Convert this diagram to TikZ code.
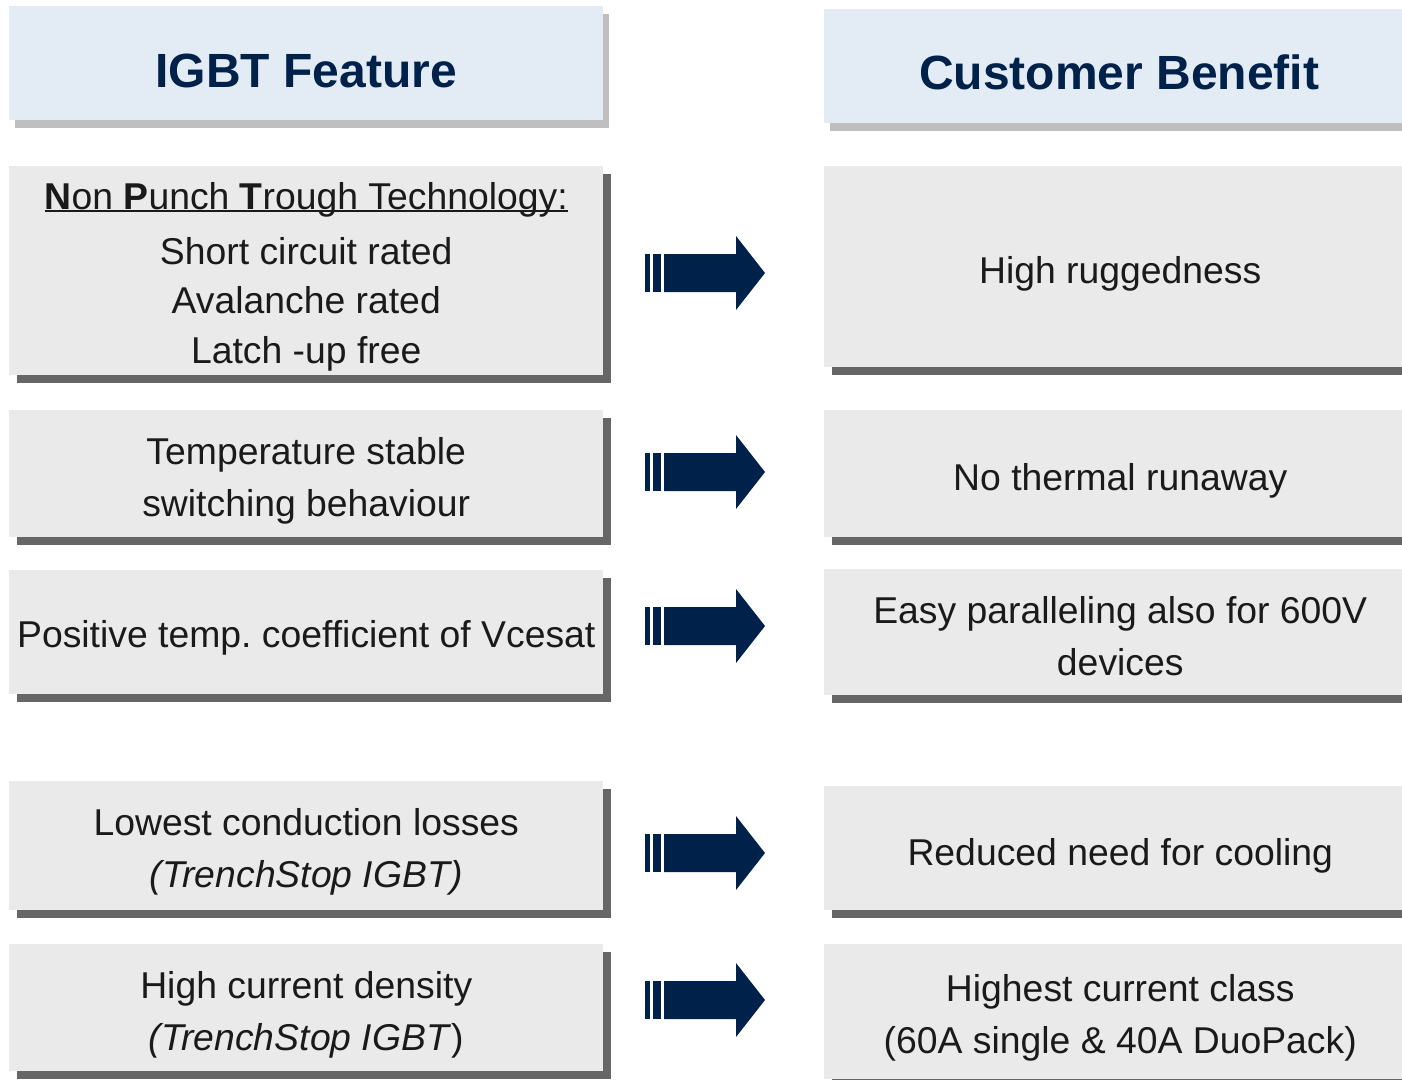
\documentclass[tikz,border=0pt]{standalone}
\usepackage{fontspec}
\setmainfont{Liberation Sans}
\usetikzlibrary{shadows}

\definecolor{headfill}{HTML}{E3ECF5}
\definecolor{headshade}{HTML}{BFBFBF}
\definecolor{boxfill}{HTML}{EAEAEA}
\definecolor{boxshade}{HTML}{666666}
\definecolor{navy}{HTML}{00214A}
\definecolor{ink}{HTML}{1A1A1A}

% one drawing unit
\newlength\unitpx
\setlength\unitpx{0.75pt}

% underline sitting close to the baseline
\newsavebox\ulinebox
\newcommand\lowline[1]{\sbox\ulinebox{#1}%
  \rlap{\rule[-1.4pt]{\wd\ulinebox}{1.1pt}}\usebox\ulinebox}

\tikzset{
  headbox/.style={fill=headfill, anchor=north west, inner sep=0pt,
    minimum height=114\unitpx, text height=36pt, text=navy,
    font=\fontsize{36}{40}\selectfont\bfseries,
    drop shadow={shadow xshift=6\unitpx, shadow yshift=-8\unitpx,
      fill=headshade, opacity=1}},
  featbox/.style={fill=boxfill, anchor=north west, inner sep=0pt,
    minimum width=594\unitpx,
    drop shadow={shadow xshift=8\unitpx, shadow yshift=-8\unitpx,
      fill=boxshade, opacity=1}},
  benbox/.style={featbox, minimum width=592\unitpx},
  boxtext/.style={inner sep=0pt, align=center, text=ink,
    font=\fontsize{28}{39}\selectfont},
}

\begin{document}
\begin{tikzpicture}[x=\unitpx, y=-\unitpx]
\useasboundingbox (0,0) rectangle (1402,1079);
\clip (0,0) rectangle (1402,1079);

% column heads
\node[headbox, minimum width=594\unitpx] (hfeat) at (9,6) {IGBT Feature};
\node[headbox, minimum width=590\unitpx, text height=34.5pt] (hben) at (824,9)
  {Customer Benefit};

% feature boxes
\node[featbox, minimum height=209\unitpx] (f1) at (9,166) {};
\node[featbox, minimum height=127\unitpx] (f2) at (9,410) {};
\node[featbox, minimum height=124\unitpx] (f3) at (9,570) {};
\node[featbox, minimum height=129\unitpx] (f4) at (9,781) {};
\node[featbox, minimum height=127\unitpx] (f5) at (9,944) {};

% benefit boxes
\node[benbox, minimum height=201\unitpx] (b1) at (824,166) {};
\node[benbox, minimum height=127\unitpx] (b2) at (824,410) {};
\node[benbox, minimum height=126\unitpx] (b3) at (824,569) {};
\node[benbox, minimum height=124\unitpx] (b4) at (824,786) {};
\node[benbox, minimum height=135\unitpx] (b5) at (824,944) {};

% feature texts
\node[boxtext, font=\fontsize{28}{37}\selectfont] (tf1)
  at ([yshift=-6\unitpx]f1.center)
  {\lowline{\textbf{N}on \textbf{P}unch \textbf{T}rough Technology:}\\[4pt]
   Short circuit rated\\ Avalanche rated\\ Latch -up free};
\node[boxtext] (tf2) at ([yshift=-7\unitpx]f2.center)
  {Temperature stable\\ switching behaviour};
\node[boxtext] (tf3) at ([yshift=-6\unitpx]f3.center)
  {Positive temp.\ coefficient of Vcesat};
\node[boxtext] (tf4) at ([yshift=-6\unitpx]f4.center)
  {Lowest conduction losses\\ \textit{(TrenchStop IGBT)}};
\node[boxtext] (tf5) at ([yshift=-7\unitpx]f5.center)
  {High current density\\ \textit{(TrenchStop IGBT})};

% benefit texts
\node[boxtext] (tb1) at ([yshift=-7\unitpx]b1.center) {High ruggedness};
\node[boxtext] (tb2) at ([yshift=-7\unitpx]b2.center) {No thermal runaway};
\node[boxtext] (tb3) at ([yshift=-4\unitpx]b3.center)
  {Easy paralleling also for 600V\\ devices};
\node[boxtext] (tb4) at ([yshift=-8\unitpx]b4.center) {Reduced need for cooling};
\node[boxtext] (tb5) at ([yshift=-6\unitpx]b5.center)
  {Highest current class\\ (60A single \& 40A DuoPack)};

% block arrows between the columns
\foreach \n/\y in {1/273, 2/472, 3/626, 4/853, 5/1000} {
  \coordinate (a\n) at (645,\y);
  \fill[navy] ([shift={(0,-19)}]a\n) rectangle ++(4.5,38);
  \fill[navy] ([shift={(8,-19)}]a\n) rectangle ++(8,38);
  \fill[navy] ([shift={(19,-19)}]a\n) -- ++(72,0) -- ++(0,-18) -- ++(29,37)
    -- ++(-29,37) -- ++(0,-18) -- ++(-72,0) -- cycle;
}
\end{tikzpicture}
\end{document}
